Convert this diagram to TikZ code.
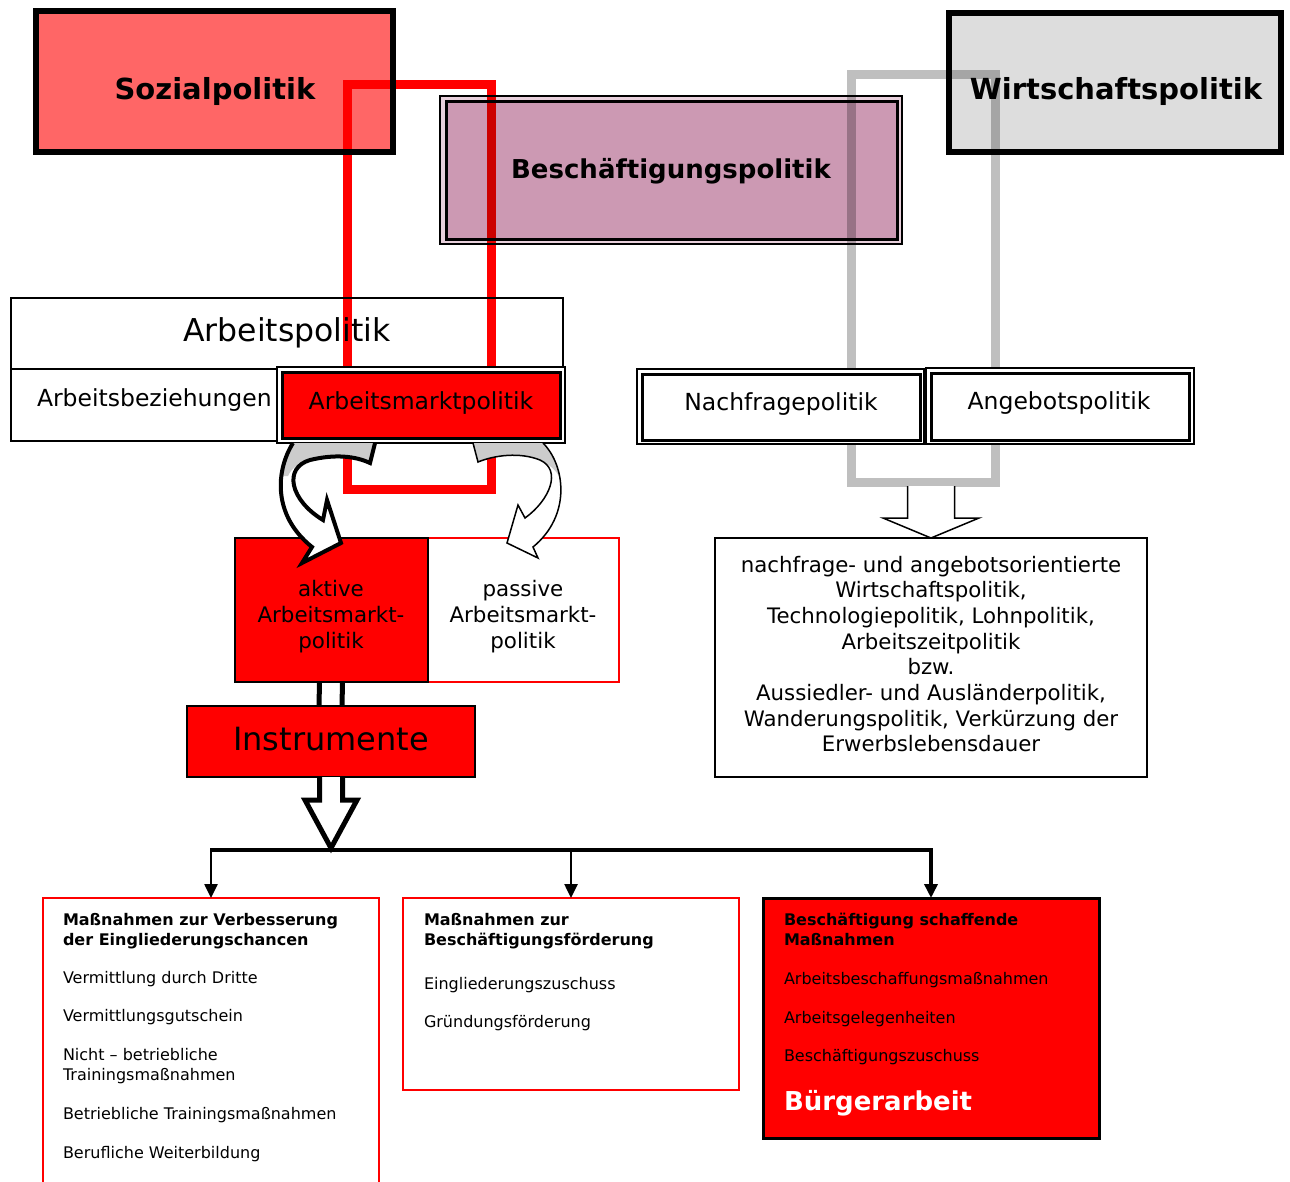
\documentclass[tikz,border=0pt]{standalone}
\usepackage{fontspec}
\setmainfont{DejaVu Sans}
\usetikzlibrary{arrows.meta,calc}
\definecolor{rd}{RGB}{255,0,0}
\definecolor{sozfill}{RGB}{255,102,102}
\definecolor{wfill}{RGB}{221,221,221}
\definecolor{bfill}{RGB}{204,153,179}
\definecolor{bgap}{RGB}{232,208,220}
\definecolor{frgray}{RGB}{191,191,191}
\definecolor{backgray}{RGB}{204,204,204}
\newcommand{\fsz}[2]{\fontsize{#1}{#2}\selectfont}
\begin{document}
\begin{tikzpicture}[x=1pt,y=-1pt,
  box/.style={rectangle, inner sep=0pt, outer sep=0pt},
  txt/.style={inner sep=0pt, outer sep=0pt},
  lt/.style={txt, anchor=base west},
  drop/.style={-{Triangle[length=14pt,width=13pt]}},
  hollow/.style={fill=white, draw=black, line join=miter}]
\fill[white] (0,0) rectangle (1290,1181);
\useasboundingbox (0,0) rectangle (1290,1181);
\clip (0,0) rectangle (1290,1181);

% top boxes
\node[box, draw, line width=6, fill=sozfill, minimum width=357, minimum height=141] (soz) at (214.5,81.5) {};
\node[txt, anchor=base] (sozt) at (215,99) {\fsz{29}{34}\bfseries Sozialpolitik};
\node[box, draw, line width=6, fill=wfill, minimum width=332, minimum height=139] (wirt) at (1115,82.5) {};
\node[txt, anchor=base] (wirtt) at (1116,99) {\fsz{29}{34}\bfseries Wirtschaftspolitik};
\node[box, draw, line width=1.5, fill=bgap, minimum width=462, minimum height=148] (besch) at (671,170) {};
\node[box, draw, line width=3, fill=bfill, minimum width=451, minimum height=138] (beschin) at (671.5,170) {};
\node[txt, anchor=base] (bescht) at (671,178) {\fsz{26}{30}\bfseries Beschäftigungspolitik};

% Arbeitspolitik table
\node[box, draw, line width=2.5, fill=white, minimum width=552, minimum height=71] (ap) at (287,333.5) {};
\node[box, draw, line width=2.5, fill=white, minimum width=552, minimum height=72] (apb) at (287,405) {};
\node[txt, anchor=base] (apt) at (287,341) {\fsz{31.5}{36}Arbeitspolitik};
\node[lt] (abz) at (37,406) {\fsz{23.5}{28}Arbeitsbeziehungen};

% frames
\begin{scope}[blend mode=multiply]
\draw[rd, line width=9] (347,84) rectangle (491,489);
\draw[frgray, line width=9] (851,74) rectangle (995,482);
\end{scope}

% Arbeitsmarktpolitik, Nachfrage, Angebot
\node[box, draw, line width=2, fill=white, minimum width=288, minimum height=76] (amp) at (421,405) {};
\node[box, draw, line width=3, fill=rd, minimum width=278, minimum height=66] (ampin) at (421,405) {};
\node[txt, anchor=base] (ampt) at (421,409) {\fsz{23.5}{28}Arbeitsmarktpolitik};
\node[box, draw, line width=2, fill=white, minimum width=287, minimum height=75] (nf) at (780.5,406.5) {};
\node[box, draw, line width=3, fill=white, minimum width=278, minimum height=66] (nfin) at (781,407) {};
\node[txt, anchor=base] (nft) at (781,410) {\fsz{23.5}{28}Nachfragepolitik};
\node[box, draw, line width=2, fill=white, minimum width=268, minimum height=76] (ag) at (1060,406) {};
\node[box, draw, line width=3, fill=white, minimum width=258, minimum height=67] (agin) at (1060,406.5) {};
\node[txt, anchor=base] (agt) at (1059,409) {\fsz{23.5}{28}Angebotspolitik};

% aktive / passive
\node[box, draw=rd, line width=2, fill=white, minimum width=191, minimum height=144] (pas) at (523.5,610) {};
\node[box, draw, line width=2, fill=rd, minimum width=193, minimum height=144] (akt) at (331.5,610) {};
\node[txt, align=center, font=\fsz{21.4}{26}] (aktt) at (331,617) {aktive\\Arbeitsmarkt-\\politik};
\node[txt, align=center, font=\fsz{21.4}{26}] (past) at (523,617) {passive\\Arbeitsmarkt-\\politik};

% right text box
\node[box, draw, line width=1.5, fill=white, minimum width=432, minimum height=239] (rtx) at (931,657.5) {};
\node[txt, align=center, font=\fsz{21.3}{25.7}] (rtxt) at (931,654) {nachfrage- und angebotsorientierte\\Wirtschaftspolitik,\\Technologiepolitik, Lohnpolitik,\\Arbeitszeitpolitik\\bzw.\\Aussiedler- und Ausländerpolitik,\\Wanderungspolitik, Verkürzung der\\Erwerbslebensdauer};
\coordinate (gfb) at (931,486);
\draw[hollow, line width=1.5] ($(gfb)+(-23.5,0)$) -- ($(gfb)+(-23.5,32)$) -- ($(gfb)+(-48,32)$) -- (rtx.north) -- ($(gfb)+(48,32)$) -- ($(gfb)+(23.5,32)$) -- ($(gfb)+(23.5,0)$);

% curved arrows
\begin{scope}
\clip (293,443) .. controls (276,470) and (272,515) .. (312,547) -- (302,563) -- (341,543) -- (327,500) -- (323,520) .. controls (290,500) and (283,468) .. (310,460) .. controls (335,454) and (355,456) .. (370,463) -- (375,443) -- cycle;
\fill[white] (260,430) rectangle (400,580);
\fill[backgray] (270,440) -- (376,440) -- (370,463) .. controls (355,456) and (335,454) .. (310,460) .. controls (298,463) and (291,469) .. (288,476) -- (270,476) -- cycle;
\end{scope}
\draw[line width=4, line join=miter] (293,443) .. controls (276,470) and (272,515) .. (312,547) -- (302,563) -- (341,543) -- (327,500) -- (323,520) .. controls (290,500) and (283,468) .. (310,460) .. controls (335,454) and (355,456) .. (370,463) -- (375,443);

\begin{scope}
\clip (473,443) -- (478,462) .. controls (495,455) and (520,452) .. (540,460) .. controls (562,470) and (550,500) .. (525,518) -- (518,505) -- (507,543) -- (538,558) -- (533,547) .. controls (572,515) and (565,465) .. (543,443) -- cycle;
\fill[white] (460,430) rectangle (600,580);
\fill[backgray] (470,440) -- (478,462) .. controls (495,455) and (520,452) .. (540,460) .. controls (550,465) and (556,470) .. (560,478) -- (580,478) -- (580,440) -- cycle;
\end{scope}
\draw[line width=1.5, line join=miter] (473,443) -- (478,462) .. controls (495,455) and (520,452) .. (540,460) .. controls (562,470) and (550,500) .. (525,518) -- (518,505) -- (507,543) -- (538,558) -- (533,547) .. controls (572,515) and (565,465) .. (543,443);

% Instrumente
\node[box, draw, line width=2, fill=rd, minimum width=288, minimum height=71] (ins) at (331,741.5) {};
\node[txt, anchor=base] (inst) at (331,750) {\fsz{32}{38}Instrumente};
\draw[line width=5] ($(akt.south)+(-12,0)$) -- ($(ins.north)+(-12,0)$);
\draw[line width=5] ($(akt.south)+(11,0)$) -- ($(ins.north)+(11,0)$);

% bus
\coordinate (busL) at (211,850);
\coordinate (busR) at (931,850);
\coordinate (bustip) at (331,848);
\draw[hollow, line width=5] ($(ins.south)+(-11.5,0)$) -- ($(ins.south)+(-11.5,23)$) -- ($(ins.south)+(-26,23)$) -- (bustip) -- ($(ins.south)+(26,23)$) -- ($(ins.south)+(11.5,23)$) -- ($(ins.south)+(11.5,0)$);
\draw[line width=4] ($(busL)+(-1,0)$) -- ($(busR)+(2,0)$);

% bottom boxes
\node[box, draw=rd, line width=2.5, fill=white, minimum width=336, minimum height=302] (b1) at (211,1049) {};
\node[box, draw=rd, line width=2.5, fill=white, minimum width=336, minimum height=192] (b2) at (571,994) {};
\node[box, draw, line width=3, fill=rd, minimum width=336, minimum height=240] (b3) at (931,1018) {};
\draw[drop, line width=2.5] (busL) -- (b1.north);
\draw[drop, line width=2.5] (b2.north |- busL) -- (b2.north);
\draw[drop, line width=4] (busR) -- (b3.north);

\node[lt] (b1a) at (63,925) {\fsz{16}{20}\bfseries Maßnahmen zur Verbesserung};
\node[lt] (b1b) at (63,945) {\fsz{16}{20}\bfseries der Eingliederungschancen};
\node[lt] (b1c) at (63,983) {\fsz{16}{20}Vermittlung durch Dritte};
\node[lt] (b1d) at (63,1021) {\fsz{16}{20}Vermittlungsgutschein};
\node[lt] (b1e) at (63,1060) {\fsz{16}{20}Nicht – betriebliche};
\node[lt] (b1f) at (63,1080) {\fsz{16}{20}Trainingsmaßnahmen};
\node[lt] (b1g) at (63,1119) {\fsz{16}{20}Betriebliche Trainingsmaßnahmen};
\node[lt] (b1h) at (63,1158) {\fsz{16}{20}Berufliche Weiterbildung};

\node[lt] (b2a) at (424,925) {\fsz{16}{20}\bfseries Maßnahmen zur};
\node[lt] (b2b) at (424,945) {\fsz{16}{20}\bfseries Beschäftigungsförderung};
\node[lt] (b2c) at (424,989) {\fsz{16}{20}Eingliederungszuschuss};
\node[lt] (b2d) at (424,1027) {\fsz{16}{20}Gründungsförderung};

\node[lt] (b3a) at (784,925) {\fsz{16}{20}\bfseries Beschäftigung schaffende};
\node[lt] (b3b) at (784,945) {\fsz{16}{20}\bfseries Maßnahmen};
\node[lt] (b3c) at (784,984) {\fsz{16}{20}Arbeitsbeschaffungsmaßnahmen};
\node[lt] (b3d) at (784,1023) {\fsz{16}{20}Arbeitsgelegenheiten};
\node[lt] (b3e) at (784,1061) {\fsz{16}{20}Beschäftigungszuschuss};
\node[lt, text=white] (b3f) at (784,1110) {\fsz{26}{30}\bfseries Bürgerarbeit};
\end{tikzpicture}
\end{document}
